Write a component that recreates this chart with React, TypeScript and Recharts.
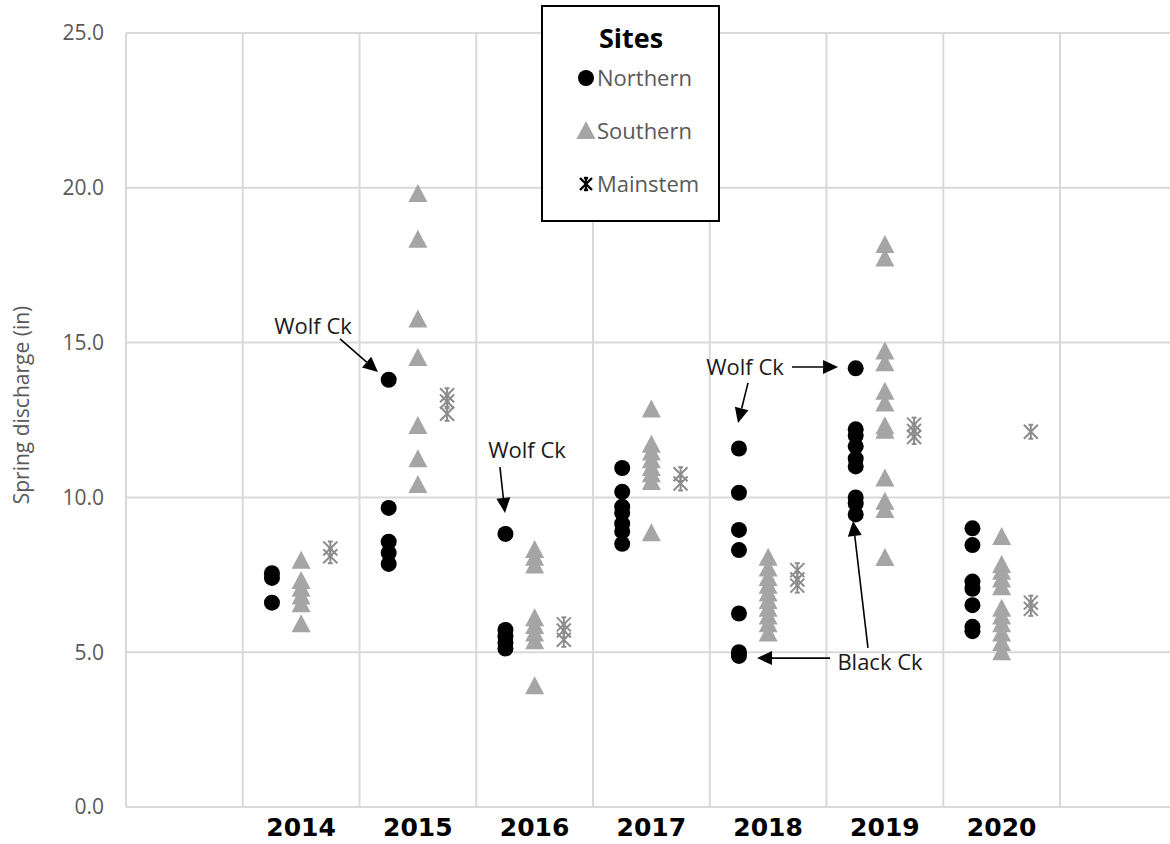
import React from 'react';
import { ScatterChart, Scatter, XAxis, YAxis, CartesianGrid, ReferenceLine, ReferenceDot } from 'recharts';

const years = [2014, 2015, 2016, 2017, 2018, 2019, 2020];

const northern: number[][] = [
  [7.55, 7.4, 6.6],
  [13.8, 9.66, 8.57, 8.21, 7.85],
  [8.82, 5.72, 5.5, 5.3, 5.12],
  [10.95, 10.18, 9.7, 9.5, 9.15, 8.9, 8.5],
  [11.58, 10.15, 8.95, 8.3, 6.25, 5.0, 4.88],
  [14.17, 12.2, 12.0, 11.65, 11.25, 11.0, 10.0, 9.8, 9.45],
  [9.0, 8.46, 7.28, 7.05, 6.52, 5.82, 5.68],
];

const southern: number[][] = [
  [7.95, 7.3, 7.05, 6.8, 6.55, 5.9],
  [19.8, 18.32, 15.75, 14.5, 12.31, 11.23, 10.4],
  [8.3, 8.05, 7.8, 6.1, 5.85, 5.6, 5.35, 3.9],
  [12.84, 11.7, 11.45, 11.2, 10.95, 10.75, 10.5, 8.84],
  [8.05, 7.7, 7.4, 7.15, 6.9, 6.65, 6.4, 6.15, 5.9, 5.6],
  [18.15, 17.72, 14.71, 14.33, 13.41, 13.03, 12.3, 12.15, 10.61, 9.86, 9.59, 8.04],
  [8.72, 7.82, 7.6, 7.35, 7.1, 6.4, 6.15, 5.9, 5.6, 5.3, 5.0],
];

const mainstem: number[][] = [
  [8.35, 8.1],
  [13.3, 13.1, 12.7],
  [5.9, 5.7, 5.4],
  [10.75, 10.45],
  [7.65, 7.35, 7.15],
  [12.35, 12.15, 11.95],
  [12.12, 6.6, 6.4],
];

const yTicks = [0, 5, 10, 15, 20, 25];
const gridX = [0, 1, 2, 3, 4, 5, 6, 7, 8];
const yearTicks = [1.5, 2.5, 3.5, 4.5, 5.5, 6.5, 7.5];
const xMax = 8.942;

const siteOffsets = [0.25, 0.5, 0.75];

const annoTexts = [
  { label: 'Wolf Ck', x: 1.602, y: 15.54 },
  { label: 'Wolf Ck', x: 3.435, y: 11.53 },
  { label: 'Wolf Ck', x: 5.302, y: 14.21 },
  { label: 'Black Ck', x: 6.458, y: 4.68 },
];

const annoArrows = [
  { x1: 1.833, y1: 15.12, x2: 2.158, y2: 14.05 },
  { x1: 3.203, y1: 10.98, x2: 3.246, y2: 9.5 },
  { x1: 5.704, y1: 14.21, x2: 6.099, y2: 14.21 },
  { x1: 5.328, y1: 13.7, x2: 5.242, y2: 12.4 },
  { x1: 6.03, y1: 4.81, x2: 5.405, y2: 4.81 },
  { x1: 6.355, y1: 5.14, x2: 6.227, y2: 9.24 },
];

function toPoints(vals: number[][], off: number) {
  return vals.flatMap((arr, i) => arr.map((v) => ({ x: i + 1 + off, y: v })));
}

const northPts = toPoints(northern, siteOffsets[0]);
const southPts = toPoints(southern, siteOffsets[1]);
const mainPts = toPoints(mainstem, siteOffsets[2]);

const FONT = '"Open Sans", "DejaVu Sans", sans-serif';

const CircleShape = (p: any) => <circle cx={p.cx} cy={p.cy} r={8} fill="#000" />;

const TriShape = (p: any) => {
  const { cx, cy } = p;
  return <polygon points={`${cx},${cy - 10} ${cx + 9.5},${cy + 8} ${cx - 9.5},${cy + 8}`} fill="#a5a5a5" />;
};

const Asterisk = ({ cx, cy, color, s, w }: any) => (
  <g stroke={color} strokeWidth={w} fill="none">
    <line x1={cx - s} y1={cy - s} x2={cx + s} y2={cy + s} />
    <line x1={cx - s} y1={cy + s} x2={cx + s} y2={cy - s} />
    <line x1={cx} y1={cy - s} x2={cx} y2={cy + s} />
    <line x1={cx - s * 0.35} y1={cy - s} x2={cx + s * 0.35} y2={cy - s} />
    <line x1={cx - s * 0.35} y1={cy + s} x2={cx + s * 0.35} y2={cy + s} />
  </g>
);

const StarShape = (p: any) => <Asterisk cx={p.cx} cy={p.cy} color="#8c8c8c" s={7} w={2} />;

const ArrowShape = (p: any) => {
  const { x1, y1, x2, y2 } = p;
  const dx = x2 - x1;
  const dy = y2 - y1;
  const len = Math.sqrt(dx * dx + dy * dy) || 1;
  const ux = dx / len;
  const uy = dy / len;
  const hl = 15;
  const hw = 7;
  const bx = x2 - ux * hl;
  const by = y2 - uy * hl;
  return (
    <g>
      <line x1={x1} y1={y1} x2={bx} y2={by} stroke="#000" strokeWidth={1.6} />
      <polygon
        points={`${x2},${y2} ${bx - uy * hw},${by + ux * hw} ${bx + uy * hw},${by - ux * hw}`}
        fill="#000"
      />
    </g>
  );
};

const YTick = (p: any) => (
  <text x={104} y={p.y} dy="0.35em" textAnchor="end" fontFamily={FONT} fontSize={21} fill="#595959">
    {Number(p.payload.value).toFixed(1)}
  </text>
);

const XTick = (p: any) => {
  const idx = yearTicks.indexOf(p.payload.value);
  return (
    <text x={p.x} y={836} textAnchor="middle" fontFamily='"DejaVu Sans", sans-serif' fontWeight="bold" fontSize={25} fill="#000">
      {years[idx]}
    </text>
  );
};

export default function App() {
  return (
    <div style={{ position: 'absolute', left: 0, top: 0, width: 1170, height: 844, overflow: 'hidden', background: '#fff' }}>
      <ScatterChart width={1170} height={844} margin={{ top: 33, right: 0, left: 0, bottom: 0 }}>
        <CartesianGrid vertical={false} stroke="#d9d9d9" strokeWidth={2} />
        {gridX.map((g) => (
          <ReferenceLine key={`g${g}`} x={g} stroke="#d9d9d9" strokeWidth={2} />
        ))}
        <XAxis
          type="number"
          dataKey="x"
          domain={[0, xMax]}
          ticks={yearTicks}
          allowDataOverflow
          height={37}
          tickLine={false}
          tickSize={0}
          axisLine={{ stroke: '#d9d9d9', strokeWidth: 2 }}
          tick={<XTick />}
          interval={0}
        />
        <YAxis
          type="number"
          dataKey="y"
          domain={[0, 25]}
          ticks={yTicks}
          width={126}
          tickLine={false}
          tickSize={0}
          axisLine={false}
          tick={<YTick />}
          interval={0}
        />
        <Scatter name="Northern" data={northPts} shape={CircleShape} isAnimationActive={false} />
        <Scatter name="Southern" data={southPts} shape={TriShape} isAnimationActive={false} />
        <Scatter name="Mainstem" data={mainPts} shape={StarShape} isAnimationActive={false} />
        {annoArrows.map((a, i) => (
          <ReferenceLine
            key={`a${i}`}
            segment={[{ x: a.x1, y: a.y1 }, { x: a.x2, y: a.y2 }]}
            shape={ArrowShape}
            ifOverflow="visible"
          />
        ))}
        {annoTexts.map((t, i) => (
          <ReferenceDot
            key={`t${i}`}
            x={t.x}
            y={t.y}
            r={0}
            ifOverflow="visible"
            shape={(p: any) => (
              <text x={p.cx} y={p.cy} dy="0.35em" textAnchor="middle" fontFamily={FONT} fontSize={22} fill="#1a1a1a">
                {t.label}
              </text>
            )}
          />
        ))}
      </ScatterChart>
      <svg style={{ position: 'absolute', left: 0, top: 0 }} width={60} height={844}>
        <text
          transform="translate(22,405) rotate(-90)"
          textAnchor="middle"
          dy="0.35em"
          fontFamily={FONT}
          fontSize={21}
          fill="#595959"
        >
          Spring discharge (in)
        </text>
      </svg>
      <svg style={{ position: 'absolute', left: 541, top: 5 }} width={180} height={218}>
        <rect x={1} y={1} width={177} height={215} fill="#fff" stroke="#000" strokeWidth={2} />
        <text x={90} y={43} textAnchor="middle" fontFamily={FONT} fontWeight="bold" fontSize={27} fill="#000">
          Sites
        </text>
        <circle cx={45} cy={73} r={8} fill="#000" />
        <text x={56} y={73} dy="0.35em" fontFamily={FONT} fontSize={22} fill="#595959">Northern</text>
        <polygon points="45,116 54.5,134 35.5,134" fill="#a5a5a5" />
        <text x={56} y={126} dy="0.35em" fontFamily={FONT} fontSize={22} fill="#595959">Southern</text>
        <Asterisk cx={45} cy={179} color="#000" s={6} w={2.4} />
        <text x={56} y={179} dy="0.35em" fontFamily={FONT} fontSize={22} fill="#595959">Mainstem</text>
      </svg>
    </div>
  );
}
